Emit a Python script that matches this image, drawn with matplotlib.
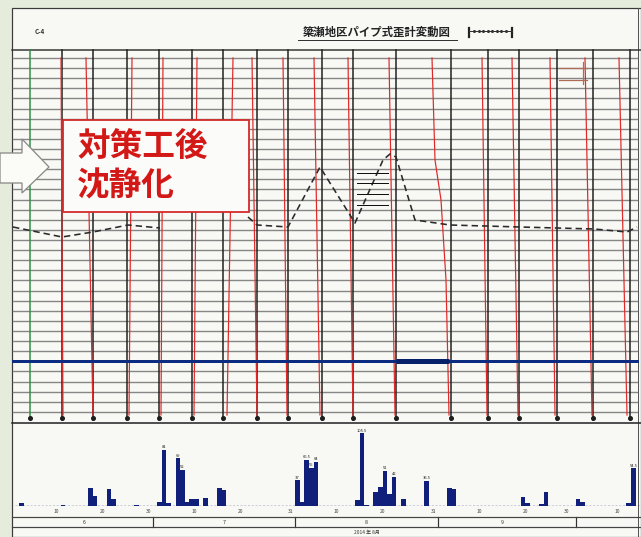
import matplotlib
matplotlib.use("Agg")
import matplotlib.pyplot as plt
import numpy as np
from matplotlib.patches import Rectangle, Polygon
from matplotlib import transforms

plt.rcParams['font.family'] = ['Noto Sans CJK JP', 'DejaVu Sans']

W, H = 641, 537

# ---------------- data ----------------
title = "簗瀬地区パイプ式歪計変動図"
sheet_id = "C-4"
callout_lines = ["対策工後", "沈静化"]
year_label = "2014 年 8月"

# pipe strain gauge positions (upper panel, px units of the sheet)
gauge_x = [30, 62, 93, 127, 159, 192, 223, 257, 288, 322, 353, 396, 451, 488, 519, 557, 593, 630]
# red deflection traces: x at top and at bottom of each gauge
red_top_x = [None, 61, 86, 132, 163, 197, 233, 252, 283, 314, 348, 389, 432, 482, 512, 550, 585, 619]
red_bot_x = [None, 63, 93, 129, 161, 194, 227, 257, 287, 320, 353, 395, 449, 487, 518, 555, 592, 627]
# curved trace of gauge 13
red_curve_x = [432, 435, 441, 446, 449]
red_curve_y = [58, 160, 200, 280, 415]

# dashed profile line (two pieces)
profile_a_x = [13, 62, 93, 128, 160]
profile_a_y = [227, 237, 232, 225, 228]
profile_b_x = [248, 257, 288, 320, 355, 383, 390, 396, 415, 450, 520, 594, 627, 637]
profile_b_y = [217, 225, 227, 167, 223, 160, 154, 157, 220, 225, 227, 229, 232, 227]

# daily rainfall (day offset from 2014-06-01, mm)
rain_day = [1, 10, 16, 17, 20, 21, 26, 31, 32, 33, 35, 36, 37, 38, 39, 41, 44, 45,
            61, 62, 63, 64, 65, 74, 75, 76, 78, 79, 80, 81, 82, 84, 89, 94, 95,
            110, 111, 114, 115, 122, 123, 133, 134]
rain_mm = [4.5, 1.5, 25.5, 14.5, 24.5, 9.5, 1.5, 6, 81, 4, 69, 52, 6, 9.5, 9.5, 11.5, 26.5, 23,
           37, 6, 66.5, 55, 64, 8.5, 105.5, 2, 20.5, 27, 51, 17, 42, 10.5, 36.5, 25.5, 24,
           12.5, 4.5, 3, 20.5, 9.5, 6, 4.5, 54.5]

tick_day = [9, 19, 29, 39, 49, 60, 70, 80, 91, 101, 111, 120, 131]
tick_text = ["10", "20", "30", "10", "20", "31", "10", "20", "31", "10", "20", "30", "10"]
month_edges = [30, 61, 92, 122]
month_mid = [15, 45.5, 76.5, 106]
month_text = ["6", "7", "8", "9"]

# ---------------- figure ----------------
fig = plt.figure(figsize=(W / 100, H / 100), dpi=100)
fig.patch.set_facecolor('#e6ecdc')
ax = fig.add_axes([0, 0, 1, 1])
ax.set_xlim(0, W)
ax.set_ylim(H, 0)
ax.axis('off')

PT = 0.72  # px -> pt

# paper
ax.add_patch(Rectangle((12, 8), W - 12, H - 8, facecolor='#f8f8f4', edgecolor='#3a3a3a', lw=1.2 * PT, zorder=0))
ax.plot([638, 638], [8, H], color='#555', lw=1 * PT, zorder=1)

# title area
ax.text(40, 31, sheet_id, fontsize=4.5, ha='center', va='center', color='#333', weight='bold')
ax.text(377, 32, title, fontsize=8.2, ha='center', va='center', color='#222', weight='bold')
ax.plot([298, 457], [40, 40], color='#333', lw=1 * PT)
ax.plot([469, 469], [28, 37], color='#222', lw=2.2 * PT)
ax.plot([512, 512], [28, 37], color='#222', lw=2.2 * PT)
ax.plot([469, 512], [31, 31], color='#333', lw=1 * PT)
ax.plot(np.linspace(474, 506, 8), [31] * 8, 'o', ms=1.2, color='#333')

# upper panel frame
ax.plot([12, W], [50, 50], color='#333', lw=1.5 * PT, zorder=2)
grid_y = 58 + 10.11 * np.arange(36)
for gy in grid_y:
    ax.plot([13, 637], [gy, gy], color='#868686', lw=1.4 * PT, zorder=1)

# gauges
for i, gx in enumerate(gauge_x):
    col = '#2f8f45' if i == 0 else '#1e1e1e'
    ax.plot([gx, gx], [50, 420], color=col, lw=1.5 * PT, zorder=3)
    ax.plot(gx, 418, 'o', ms=2.6, color='#1e1e1e', zorder=4)
    if red_top_x[i] is not None and i != 12:
        ax.plot([red_top_x[i], red_bot_x[i]], [58, 415], color='#e02828', lw=1.2 * PT, zorder=4)
ax.plot(red_curve_x, red_curve_y, color='#e02828', lw=1.2 * PT, zorder=4)

# blue line
ax.plot([13, 637], [361, 361], color='#0c2c82', lw=3 * PT, zorder=5)
ax.plot([396, 449], [361, 361], color='#07206a', lw=5 * PT, zorder=5, solid_capstyle='butt')

# profile line
ax.plot(profile_a_x, profile_a_y, color='#2a2a2a', lw=1.6 * PT, ls=(0, (4, 2.5)), zorder=6)
ax.plot(profile_b_x, profile_b_y, color='#2a2a2a', lw=1.6 * PT, ls=(0, (4, 2.5)), zorder=6)
for hy in [173, 183, 194, 205]:
    ax.plot([357, 388], [hy, hy], color='#111', lw=1 * PT, zorder=6)

# small mark top right
ax.plot([559, 587], [68, 68], color='#b06a55', lw=1.2 * PT, zorder=6)
ax.plot([559, 587], [80, 80], color='#b06a55', lw=1.2 * PT, zorder=6)
ax.plot([583, 583], [62, 84], color='#b06a55', lw=1.2 * PT, zorder=6)

# lower panel frame
ax.plot([12, W], [423, 423], color='#2a2a2a', lw=1.6 * PT, zorder=3)
ax.plot([12, W], [517, 517], color='#444', lw=1.2 * PT, zorder=3)
ax.plot([12, W], [527, 527], color='#444', lw=1.2 * PT, zorder=3)

# callout arrow and box
arrow = Polygon([(0, 153), (22, 153), (22, 139), (49, 167), (22, 193), (22, 183), (0, 183)],
                closed=True, facecolor='#fbfbf8', edgecolor='#8a8a8a', lw=1.3 * PT, zorder=10)
ax.add_patch(arrow)
ax.add_patch(Rectangle((63, 120), 186, 92, facecolor='#fbfbf9', edgecolor='#d42a2a', lw=1.8 * PT, zorder=10))
ax.text(77, 146, callout_lines[0], fontsize=23.5, color='#d31818', ha='left', va='center', weight='bold', zorder=11)
ax.text(77, 186, callout_lines[1], fontsize=23.5, color='#d31818', ha='left', va='center', weight='bold', zorder=11)

# ---------------- rainfall axes ----------------
day_px = 4.6
x0 = 14.7
base_px, top_px = 506, 423
mm_per_px = 1.45
axr = fig.add_axes([x0 / W, (H - base_px) / H, (W - x0) / W, (base_px - top_px) / H])
axr.set_xlim(0, (W - x0) / day_px)
axr.set_ylim(0, (base_px - top_px) * mm_per_px)
axr.axis('off')
axr.patch.set_alpha(0)
axr.bar(np.array(rain_day) + 0.5, rain_mm, width=1.0, color='#10207a', zorder=3)
for d, v in zip(rain_day, rain_mm):
    if v >= 35:
        axr.text(d + 0.5, v + 1, f"{v:g}", fontsize=3, ha='center', va='bottom', color='#222')
axr.axhline(0, color='#1a2a80', lw=1.0, ls=(0, (1.5, 1.2)), zorder=2)

tr = transforms.blended_transform_factory(axr.transData, ax.transData)
for d, t in zip(tick_day, tick_text):
    ax.text(d, 511.5, t, fontsize=3.5, ha='center', va='center', color='#444', transform=tr)
for d in month_edges:
    ax.plot([d, d], [517, 527], color='#333', lw=1.2 * PT, transform=tr)
for d, t in zip(month_mid, month_text):
    ax.text(d, 522, t, fontsize=3.8, ha='center', va='center', color='#333', transform=tr)
ax.text(76.5, 532, year_label, fontsize=3.5, ha='center', va='center', color='#333', transform=tr)

fig.savefig("out.png", dpi=100, facecolor=fig.get_facecolor())
